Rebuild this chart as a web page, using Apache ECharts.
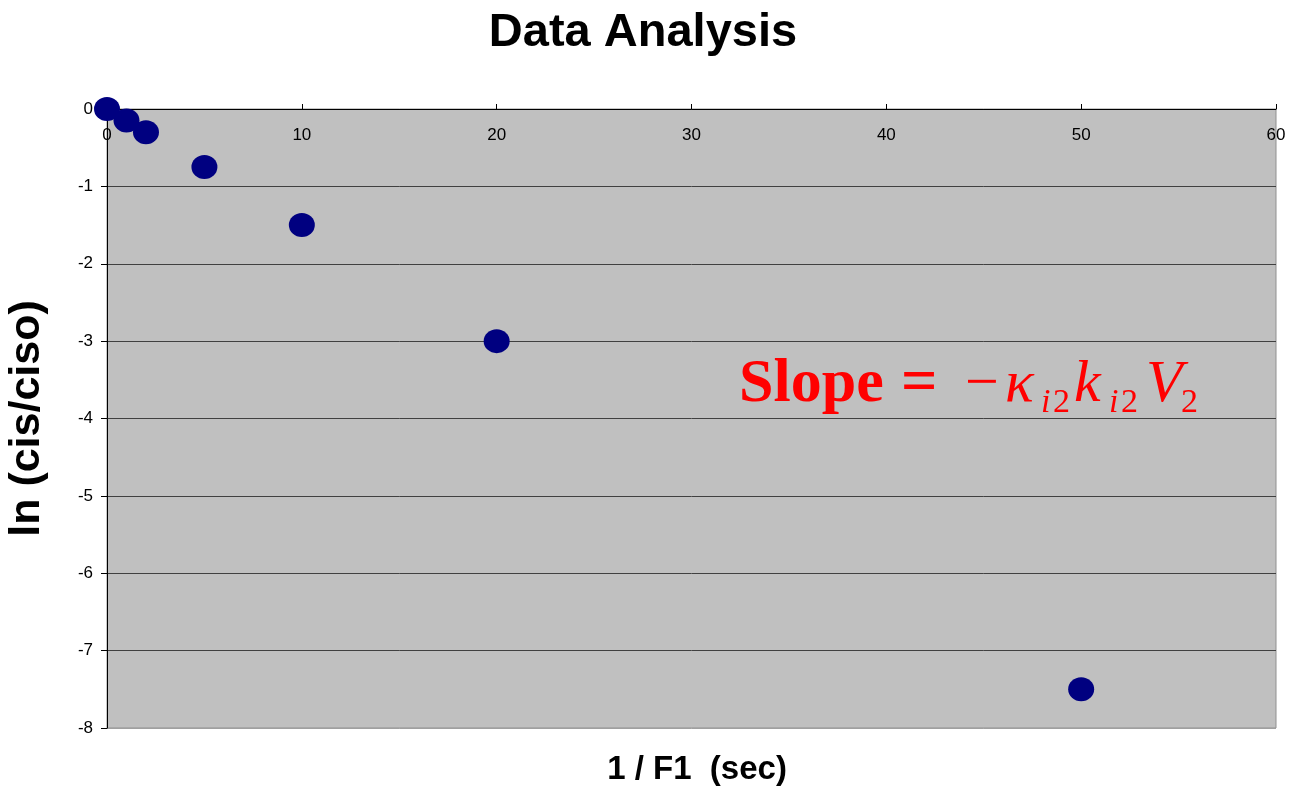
<!DOCTYPE html>
<html>
<head>
<meta charset="utf-8">
<script src="https://cdn.jsdelivr.net/npm/echarts@6/dist/echarts.min.js"></script>
<style>html,body{margin:0;padding:0;background:#fff}#c{width:1298px;height:787px}</style>
</head>
<body>
<div id="c"></div>
<script>
// Data
var xValues = [0, 1, 2, 5, 10, 20, 50];
var yValues = [0, -0.15, -0.3, -0.75, -1.5, -3, -7.5];
var xTicks = [0, 10, 20, 30, 40, 50, 60];
var yTicks = [-8, -7, -6, -5, -4, -3, -2, -1, 0];
var titleText = 'Data Analysis';
var xName = '1 / F1  (sec)';
var yName = 'ln (cis/ciso)';

var points = xValues.map(function (x, i) { return [x, yValues[i]]; });
var chart = echarts.init(document.getElementById('c'), null, {renderer: 'canvas'});

var sans = 'Liberation Sans, Arial, sans-serif';
var serif = '"Liberation Serif", "Times New Roman", serif';
var red = '#ff0000';

var splitColors = yTicks.map(function (v, i) { return i === 0 ? '#a0a0a0' : '#404040'; });

chart.setOption({
  animation: false,
  backgroundColor: '#ffffff',
  title: {
    text: titleText, left: 638, top: 5, textAlign: 'center',
    textStyle: {fontFamily: sans, fontWeight: 'bold', fontSize: 47, color: '#000'}
  },
  grid: {
    left: 107, top: 109, width: 1169, height: 619, containLabel: false, outerBoundsMode: 'none',
    show: true, backgroundColor: '#c0c0c0', borderColor: '#909090', borderWidth: 1
  },
  xAxis: {
    type: 'value', position: 'top', min: xTicks[0], max: xTicks[xTicks.length - 1], interval: 10,
    axisLine: {show: true, onZero: false, lineStyle: {color: '#000', width: 1}},
    axisTick: {show: true, inside: false, length: 5, lineStyle: {color: '#000'}},
    axisLabel: {inside: true, margin: 18, fontFamily: sans, fontSize: 17, color: '#000'},
    splitLine: {show: false}
  },
  yAxis: {
    type: 'value', min: yTicks[0], max: yTicks[yTicks.length - 1], interval: 1,
    name: yName, nameLocation: 'middle', nameGap: 58, nameRotate: 90,
    nameTextStyle: {fontFamily: sans, fontWeight: 'bold', fontSize: 43, color: '#000'},
    axisLine: {show: true, onZero: false, lineStyle: {color: '#000', width: 1}},
    axisTick: {show: true, length: 6, lineStyle: {color: '#000'}},
    axisLabel: {margin: 14, fontFamily: sans, fontSize: 17, color: '#000'},
    splitLine: {show: true, lineStyle: {color: splitColors, width: 1}}
  },
  series: [{
    type: 'scatter', data: points, symbol: 'circle', symbolSize: [26, 24],
    itemStyle: {color: '#000080', opacity: 1}, z: 5
  }],
  graphic: [
    {type: 'text', x: 697, y: 770, style: {text: xName, font: 'bold 33px ' + sans, fill: '#000', align: 'center', verticalAlign: 'middle'}},
    {type: 'text', x: 739, y: 385, style: {text: 'Slope', font: 'bold 62px ' + serif, fill: red, verticalAlign: 'middle'}},
    {type: 'text', x: 901, y: 385, style: {text: '=', font: 'bold 64px ' + serif, fill: red, verticalAlign: 'middle'}},
    {type: 'text', x: 965, y: 385, style: {text: '\u2212', font: '60px ' + serif, fill: red, verticalAlign: 'middle'}},
    {type: 'text', x: 1005, y: 385, style: {text: '\u03ba', font: 'italic 60px ' + serif, fill: red, verticalAlign: 'middle'}},
    {type: 'text', x: 1041, y: 403, style: {text: 'i', font: 'italic 34px ' + serif, fill: red, verticalAlign: 'middle'}},
    {type: 'text', x: 1053, y: 403, style: {text: '2', font: '34px ' + serif, fill: red, verticalAlign: 'middle'}},
    {type: 'text', x: 1074, y: 385, style: {text: 'k', font: 'italic 60px ' + serif, fill: red, verticalAlign: 'middle'}},
    {type: 'text', x: 1109, y: 403, style: {text: 'i', font: 'italic 34px ' + serif, fill: red, verticalAlign: 'middle'}},
    {type: 'text', x: 1121, y: 403, style: {text: '2', font: '34px ' + serif, fill: red, verticalAlign: 'middle'}},
    {type: 'text', x: 1146, y: 385, style: {text: 'V', font: 'italic 60px ' + serif, fill: red, verticalAlign: 'middle'}},
    {type: 'text', x: 1181, y: 403, style: {text: '2', font: '34px ' + serif, fill: red, verticalAlign: 'middle'}}
  ]
});
</script>
</body>
</html>
